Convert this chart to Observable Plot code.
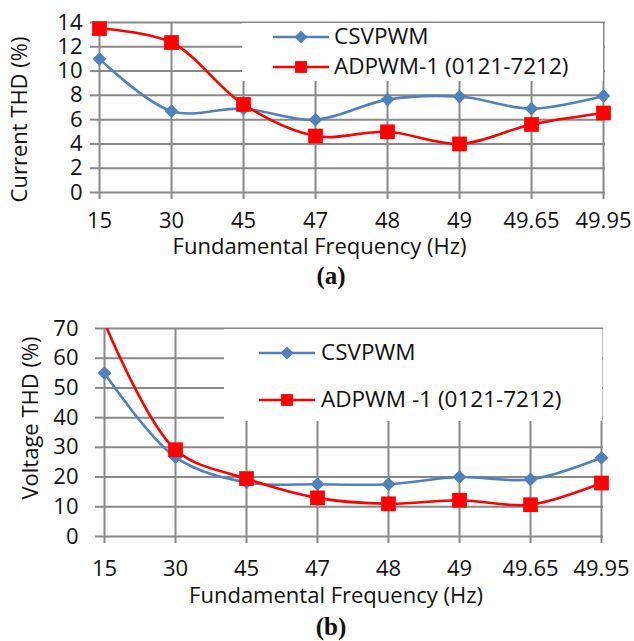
<!DOCTYPE html>
<html>
<head>
<meta charset="utf-8">
<script src="https://cdn.jsdelivr.net/npm/d3@7"></script>
<script src="https://cdn.jsdelivr.net/npm/@observablehq/plot@0.6"></script>
<style>
  html, body { margin: 0; padding: 0; background: #fff; }
  #fig { position: relative; width: 634px; height: 641px; overflow: hidden; font-family: "Open Sans", sans-serif; color: #111; }
  .panel { position: absolute; left: 0; }
  .legend { position: absolute; background: #fff; }
  .legend svg { position: absolute; left: 0; top: 0; overflow: visible; }
  .legend .lab { position: absolute; font-size: 22.5px; line-height: 1; white-space: nowrap; transform: translateY(-52%); }
  .cap { position: absolute; width: 100px; text-align: center; font-family: "Liberation Serif", serif; font-weight: bold; font-size: 25px; line-height: 1; }
</style>
</head>
<body>
<div id="fig"></div>
<script>
// ---- data ----
const freqLabels = ["15", "30", "45", "47", "48", "49", "49.65", "49.95"];
const currentCSVPWM = [11.0, 6.7, 6.9, 6.0, 7.65, 7.9, 6.9, 7.95];
const currentADPWM = [13.5, 12.35, 7.25, 4.65, 5.0, 4.0, 5.6, 6.55];
const voltageCSVPWM = [55, 26.7, 18.2, 17.6, 17.6, 20.0, 19.2, 26.5];
const voltageADPWM = [72, 29.2, 19.5, 13.0, 11.0, 12.2, 10.7, 18.0];
const currentTicks = [0, 2, 4, 6, 8, 10, 12, 14];
const voltageTicks = [0, 10, 20, 30, 40, 50, 60, 70];
const seriesNames = ["CSVPWM", "ADPWM-1 (0121-7212)"];
const seriesNamesB = ["CSVPWM", "ADPWM -1 (0121-7212)"];

const blue = "#4F81BD", red = "#FF0000", grid = "#898989", ink = "#111";
const FS = 22;

function rows(a, b) {
  const out = [];
  freqLabels.forEach((f, i) => out.push({f, v: a[i], s: "CSVPWM"}));
  freqLabels.forEach((f, i) => out.push({f, v: b[i], s: "ADPWM"}));
  return out;
}

function panel(cfg) {
  const data = rows(cfg.a, cfg.b);
  const yMax = cfg.ticks[cfg.ticks.length - 1];
  const frameMidY = cfg.marginTop + (cfg.height - cfg.marginTop - cfg.marginBottom) / 2;
  const frameMidX = cfg.marginLeft + (634 - cfg.marginLeft - cfg.marginRight) / 2;
  return Plot.plot({
    width: 634,
    height: cfg.height,
    marginTop: cfg.marginTop,
    marginBottom: cfg.marginBottom,
    marginLeft: cfg.marginLeft,
    marginRight: cfg.marginRight,
    style: {fontFamily: "Open Sans", fontSize: FS + "px", color: ink, background: "transparent", overflow: "visible"},
    x: {type: "point", domain: freqLabels, padding: 0},
    y: {domain: [0, yMax]},
    marks: [
      Plot.gridY(cfg.ticks, {stroke: grid, strokeOpacity: 1, strokeWidth: 2}),
      Plot.gridX(freqLabels, {stroke: grid, strokeOpacity: 1, strokeWidth: 2}),
      Plot.axisY(cfg.ticks, {tickSize: 7, tickPadding: cfg.yPad, stroke: grid, strokeWidth: 2, fill: ink, label: null, fontSize: FS}),
      Plot.axisX(freqLabels, {tickSize: 7, tickPadding: cfg.xPad, stroke: grid, strokeWidth: 2, fill: ink, label: null, fontSize: FS}),
      Plot.line(data, {x: "f", y: "v", z: "s", stroke: d => d.s === "CSVPWM" ? blue : red, strokeWidth: 2.6, curve: "catmull-rom", clip: true}),
      Plot.dot(data.filter(d => d.s === "CSVPWM" && d.v <= yMax), {x: "f", y: "v", symbol: "diamond2", r: 6.2, fill: blue, stroke: "none"}),
      Plot.dot(data.filter(d => d.s === "ADPWM" && d.v <= yMax), {x: "f", y: "v", symbol: "square", r: 8.3, fill: red, stroke: "none"}),
      Plot.text([cfg.ytitle], {frameAnchor: "left", textAnchor: "middle", lineAnchor: "middle", rotate: -90, dx: cfg.ytx - cfg.marginLeft, dy: cfg.yty - frameMidY, fontSize: FS, fill: ink}),
      Plot.text(["Fundamental Frequency (Hz)"], {frameAnchor: "bottom", textAnchor: "middle", lineAnchor: "middle", dx: cfg.xtx - frameMidX, dy: cfg.xty, fontSize: FS, fill: ink})
    ]
  });
}

function legend(cfg) {
  const div = document.createElement("div");
  div.className = "legend";
  Object.assign(div.style, {left: cfg.left + "px", top: cfg.top + "px", width: cfg.width + "px", height: cfg.height + "px"});
  const ns = "http://www.w3.org/2000/svg";
  const svg = document.createElementNS(ns, "svg");
  svg.setAttribute("width", cfg.width); svg.setAttribute("height", cfg.height);
  const items = [{c: blue, sym: d3.symbolDiamond2, size: 110}, {c: red, sym: d3.symbolSquare, size: 140}];
  items.forEach((it, i) => {
    const y = cfg.rows[i];
    const ln = document.createElementNS(ns, "line");
    ln.setAttribute("x1", cfg.x1); ln.setAttribute("x2", cfg.x2);
    ln.setAttribute("y1", y); ln.setAttribute("y2", y);
    ln.setAttribute("stroke", it.c); ln.setAttribute("stroke-width", 2.6);
    svg.appendChild(ln);
    const p = document.createElementNS(ns, "path");
    p.setAttribute("d", d3.symbol(it.sym, it.size)());
    p.setAttribute("transform", `translate(${(cfg.x1 + cfg.x2) / 2},${y})`);
    p.setAttribute("fill", it.c);
    svg.appendChild(p);
    const t = document.createElement("div");
    t.className = "lab";
    t.textContent = cfg.names[i];
    t.style.left = cfg.tx + "px";
    t.style.top = y + "px";
    div.appendChild(t);
  });
  div.insertBefore(svg, div.firstChild);
  return div;
}

const fig = document.getElementById("fig");

// Panel (a)
const pa = panel({
  a: currentCSVPWM, b: currentADPWM, ticks: currentTicks,
  height: 262, marginTop: 22, marginBottom: 70, marginLeft: 97, marginRight: 29,
  yPad: 8, xPad: 13, ytitle: "Current THD (%)", ytx: 19, yty: 119, xtx: 319, xty: 54
});
pa.classList.add("panel"); pa.style.top = "0px";
fig.appendChild(pa);
fig.appendChild(legend({left: 242, top: 23, width: 361, height: 58, rows: [14, 44], x1: 31, x2: 87, tx: 92, names: seriesNames}));

const ca = document.createElement("div");
ca.className = "cap"; ca.textContent = "(a)";
Object.assign(ca.style, {left: "281px", top: "263px"});
fig.appendChild(ca);

// Panel (b)
const pb = panel({
  a: voltageCSVPWM, b: voltageADPWM, ticks: voltageTicks,
  height: 320, marginTop: 38, marginBottom: 74, marginLeft: 102, marginRight: 31,
  yPad: 17, xPad: 17, ytitle: "Voltage THD (%)", ytx: 30, yty: 127.5, xtx: 335.5, xty: 59
});
pb.classList.add("panel"); pb.style.top = "290px";
fig.appendChild(pb);
fig.appendChild(legend({left: 224, top: 329, width: 378, height: 92, rows: [24, 71], x1: 35, x2: 91, tx: 97, names: seriesNamesB}));

const cb = document.createElement("div");
cb.className = "cap"; cb.textContent = "(b)";
Object.assign(cb.style, {left: "281px", top: "614px"});
fig.appendChild(cb);
</script>
</body>
</html>
